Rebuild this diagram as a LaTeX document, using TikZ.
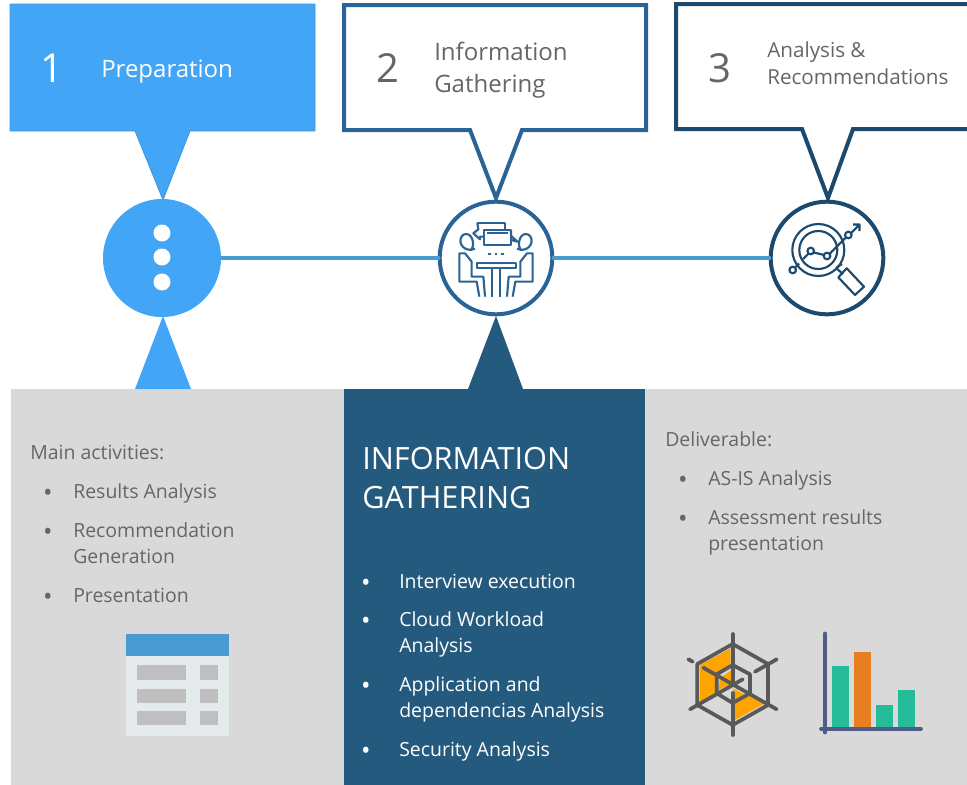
\documentclass[tikz,border=0pt]{standalone}
\usepackage{fontspec}
\setmainfont{Open Sans}
\definecolor{prepblue}{HTML}{42A5F5}
\definecolor{prepedge}{HTML}{3E97DC}
\definecolor{linkblue}{HTML}{4A9BD4}
\definecolor{gatherblue}{HTML}{2A6496}
\definecolor{panelblue}{HTML}{255A7F}
\definecolor{analysisblue}{HTML}{1C4A6E}
\definecolor{panelgrey}{HTML}{D9D9D9}
\definecolor{bodygrey}{HTML}{666666}
\definecolor{webgrey}{HTML}{595959}
\definecolor{weborange}{HTML}{FFA500}
\definecolor{barteal}{HTML}{26BC99}
\definecolor{barorange}{HTML}{E67E22}
\definecolor{axisblue}{HTML}{4F5D86}
\tikzset{
  bodytext/.style={anchor=base west, inner sep=0, align=left, text=bodygrey, font=\fontsize{14.6}{19.5}\selectfont},
  blocktext/.style={bodytext, anchor=north west},
  whitetext/.style={bodytext, text=white},
  whiteblock/.style={blocktext, text=white},
  bulletmark/.style={anchor=center, inner sep=0, text=bodygrey, font=\fontsize{19}{19}\selectfont},
  whitemark/.style={bulletmark, text=white},
  bignum/.style={anchor=center, inner sep=0, font=\fontsize{30}{36}\selectfont},
  stagecircle/.style={circle, inner sep=0, outer sep=0, minimum size=84.5pt},
  iconline/.style={line width=1.6pt, line join=round},
  webline/.style={webgrey, line width=2.8pt, line cap=round, line join=round},
}
\begin{document}
\begin{tikzpicture}[x=0.75pt, y=-0.75pt]
      \clip (0, 0) rectangle (967, 785);
      % PANELS
      \fill[panelgrey] (11, 389) rectangle (344, 785);
      \fill[panelblue] (344, 389) rectangle (645, 785);
      \fill[panelgrey] (645, 389) rectangle (967, 785);
      % -- triangles
      \fill[prepblue] (135, 389) -- (163, 316) -- (191, 389) -- cycle;
      \fill[panelblue] (468, 389) -- (496, 316) -- (523, 389) -- cycle;
      % CALLOUTS
      \draw[prepedge, line width=0.6pt, fill=prepblue] (10, 4) -- (315, 4) -- (315, 131) -- (190, 131) -- (163, 200) -- (135, 131) -- (10, 131) -- cycle;
      \draw[gatherblue, line width=3pt, fill=white] (344, 5) -- (646, 5) -- (646, 130) -- (522, 130) -- (496, 198) -- (470, 130) -- (344, 130) -- cycle;
      \draw[analysisblue, line width=3pt, fill=white] (676, 4) -- (980, 4) -- (980, 129) -- (853, 129) -- (828, 198) -- (802, 129) -- (676, 129) -- cycle;
      % -- numbers
      \node[bignum, text=white] (num1) at (52, 68) {1};
      \node[bignum, text=bodygrey] (num2) at (388, 68) {2};
      \node[bignum, text=bodygrey] (num3) at (720, 68) {3};
      % -- titles
      \node[blocktext, anchor=west, text=white, font=\fontsize{18}{24}\selectfont] (title1) at (101, 72) {Preparation};
      \node[blocktext, anchor=west, font=\fontsize{18}{24}\selectfont] (title2) at (434, 70) {Information\\Gathering};
      \node[blocktext, anchor=west, font=\fontsize{15.5}{20.25}\selectfont] (title3) at (767, 63) {Analysis \&\\Recommendations};
      % TIMELINE
      \node[stagecircle, fill=prepblue, minimum size=88.5pt] (stage1) at (162, 258) {};
      \node[stagecircle, draw=gatherblue, line width=3pt, fill=white] (stage2) at (496, 258) {};
      \node[stagecircle, draw=analysisblue, line width=3pt, fill=white] (stage3) at (827, 258) {};
      \draw[linkblue, line width=3pt] (stage1) -- (stage2);
      \draw[linkblue, line width=3pt] (stage2) -- (stage3);
      % -- dots
      \fill[white] (162, 233) circle[radius=8.5];
      \fill[white] (162, 257) circle[radius=8.5];
      \fill[white] (162, 282) circle[radius=8.5];
      % -- meeting icon
      \begin{scope}[iconline, draw=gatherblue, x=0.25pt, y=-0.25pt, shift={(322.5pt, -142.5pt)}]
        \draw (142, 98) -- (225, 98) -- (225, 120);
        \draw (163, 140) -- (150, 140) -- (150, 148) -- (130, 130) -- (145, 118) -- (142, 98);
        \draw (163, 120) rectangle (243, 165);
        \draw (243, 120) -- (243, 137) -- (262, 155) -- (243, 150);
        \draw (172, 130) -- (235, 130);
        \draw (122, 180) .. controls (135, 170) and (130, 132) .. (108, 132) .. controls (85, 132) and (82, 178) .. (122, 180) -- (135, 176);
        \draw (274, 180) .. controls (261, 170) and (266, 132) .. (288, 132) .. controls (311, 132) and (314, 178) .. (274, 180) -- (261, 176);
        \draw (148, 320) -- (140, 275) -- (88, 275) -- (88, 190) -- (105, 190) -- (125, 215) -- (125, 260) -- (160, 260) -- (165, 320);
        \draw (248, 320) -- (256, 275) -- (308, 275) -- (308, 190) -- (291, 190) -- (271, 215) -- (271, 260) -- (236, 260) -- (231, 320);
        \draw (140, 218) rectangle (258, 235);
        \draw (187, 235) -- (187, 320);
        \draw (209, 235) -- (209, 320);
        \fill[gatherblue] (174, 188) rectangle (182, 196);
        \fill[gatherblue] (194, 188) rectangle (202, 196);
        \fill[gatherblue] (214, 188) rectangle (222, 196);
      \end{scope}
      % -- search icon
      \draw[iconline, analysisblue] (818.3, 250) circle[radius=26];
      \draw[iconline, analysisblue] (818.3, 250) circle[radius=19];
      \draw[iconline, analysisblue] (846.7, 268.3) -- (864, 286.7) -- (855, 295) -- (838.3, 277.3) -- cycle;
      \draw[iconline, analysisblue] (836, 268) -- (842, 264);
      \draw[iconline, analysisblue] (836, 268) -- (843, 274);
      \draw[iconline, analysisblue] (795, 267.5) -- (799, 263.5);
      \draw[iconline, analysisblue] (803, 259) -- (808.5, 253.5) (813.8, 252.5) -- (824, 255) (829.5, 254) -- (845.8, 237.5) (851, 233) -- (859.5, 224.5) -- (853, 224.5) (859.5, 224.5) -- (859.5, 231);
      \draw[iconline, analysisblue] (792.7, 270) circle[radius=3.3];
      \draw[iconline, analysisblue] (810.7, 251) circle[radius=3.3];
      \draw[iconline, analysisblue] (827, 256) circle[radius=3.3];
      \draw[iconline, analysisblue] (848.3, 235) circle[radius=3.3];
      % LEFT PANEL
      \node[bodytext] (mainhead) at (30, 459) {Main activities:};
      \node[bulletmark] (bul1) at (48, 495) {•};
      \node[bodytext] (act1) at (73, 498) {Results Analysis};
      \node[bulletmark] (bul2) at (48, 534) {•};
      \node[blocktext] (act2) at (73, 522) {Recommendation\\Generation};
      \node[bulletmark] (bul3) at (48, 599) {•};
      \node[bodytext] (act3) at (73, 602) {Presentation};
      % -- table icon
      \fill[white!90!linkblue!60!panelgrey] (126, 634) rectangle (229, 736);
      \fill[linkblue] (126, 634) rectangle (229, 656);
      \fill[black!25] (137, 665) rectangle (186, 680);
      \fill[black!25] (200, 665) rectangle (218, 680);
      \fill[black!25] (137, 689) rectangle (186, 703);
      \fill[black!25] (200, 689) rectangle (218, 703);
      \fill[black!25] (137, 711) rectangle (186, 725);
      \fill[black!25] (200, 711) rectangle (218, 725);
      % MIDDLE PANEL
      \node[whiteblock, font=\fontsize{23}{29.25}\selectfont] (gatherhead) at (362, 447) {INFORMATION\\GATHERING};
      \node[whitemark] (bul4) at (366, 585) {•};
      \node[whitetext] (task1) at (399, 588) {Interview execution};
      \node[whitemark] (bul5) at (366, 623) {•};
      \node[whiteblock] (task2) at (399, 611) {Cloud Workload\\Analysis};
      \node[whitemark] (bul6) at (366, 688) {•};
      \node[whiteblock] (task3) at (399, 676) {Application and\\dependencias Analysis};
      \node[whitemark] (bul7) at (366, 753) {•};
      \node[whitetext] (task4) at (399, 756) {Security Analysis};
      % RIGHT PANEL
      \node[bodytext] (delivhead) at (665, 446) {Deliverable:};
      \node[bulletmark] (bul8) at (683, 482) {•};
      \node[bodytext] (deliv1) at (708, 485) {AS-IS Analysis};
      \node[bulletmark] (bul9) at (683, 521) {•};
      \node[blocktext] (deliv2) at (708, 509) {Assessment results\\presentation};
      % -- web icon
      \fill[weborange] (730.7, 648.3) -- (700, 665) -- (700, 701.7) -- (716.7, 691.7) -- (716.7, 673.3) -- (730.7, 665) -- cycle;
      \fill[weborange] (720, 678.3) -- (731.7, 670) -- (731.7, 683.3) -- (718.3, 690) -- cycle;
      \fill[weborange] (735, 720) -- (735, 703.3) -- (750, 694) -- (765, 703.3) -- cycle;
      \fill[weborange] (733.3, 688.3) -- (745, 695) -- (733.3, 700) -- cycle;
      \draw[webline] (732.7, 644) -- (768, 664) -- (768, 705) -- (732.7, 725) -- (697.3, 705) -- (697.3, 664) -- cycle;
      \draw[webline] (732.7, 665) -- (750, 674.3) -- (750, 693.3) -- (732.7, 703) -- (716.7, 693.3) -- (716.7, 674.3) -- cycle;
      \draw[webline] (732.7, 634) -- (732.7, 683);
      \draw[webline] (732.7, 693) -- (732.7, 735);
      \draw[webline] (690, 709.3) -- (742.7, 679.3);
      \draw[webline] (703.3, 667.7) -- (776.7, 709.3);
      \draw[webline] (755, 671.7) -- (776.7, 659.3);
      \draw[webline] (688.3, 659.3) -- (692.7, 661.7);
      % -- bar icon
      \fill[barteal] (832, 666) rectangle (848.7, 728);
      \fill[barorange] (854, 652.3) rectangle (871, 728);
      \fill[barteal] (876.3, 705.3) rectangle (893, 728);
      \fill[barteal] (898, 690) rectangle (915, 728);
      \draw[axisblue, line width=2.8pt, line cap=round] (825, 633.5) -- (825, 732.5);
      \draw[axisblue, line width=2.8pt, line cap=round] (821, 728.7) -- (921, 728.7);
\end{tikzpicture}
\end{document}
